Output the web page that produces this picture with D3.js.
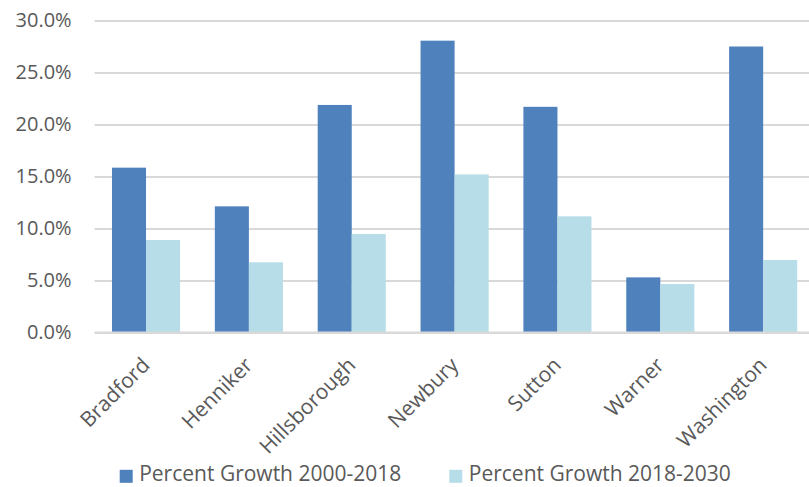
<!DOCTYPE html>
<html>
<head>
<meta charset="utf-8">
<script src="https://cdn.jsdelivr.net/npm/d3@7"></script>
<style>
  html, body { margin: 0; padding: 0; background: #fff; }
  svg { display: block; font-family: "Open Sans", "Noto Sans", sans-serif; }
</style>
</head>
<body>
<svg id="chart" width="809" height="487"></svg>
<script>
// Towns and projected population growth
const towns = ["Bradford", "Henniker", "Hillsborough", "Newbury", "Sutton", "Warner", "Washington"];
const growth2000to2018 = [0.1585, 0.1213, 0.2188, 0.2806, 0.2170, 0.0530, 0.2750];
const growth2018to2030 = [0.0890, 0.0675, 0.0947, 0.1520, 0.1117, 0.0466, 0.0697];
const seriesNames = ["Percent Growth 2000-2018", "Percent Growth 2018-2030"];
const seriesColors = ["#4F81BD", "#B7DDE8"];
const yTicks = [0, 0.05, 0.10, 0.15, 0.20, 0.25, 0.30];

const seriesValues = [growth2000to2018, growth2018to2030];
const rows = towns.map((t, i) => ({ town: t, values: seriesValues.map(s => s[i]) }));

const svg = d3.select("#chart");
const W = 809, H = 487;
const plot = { left: 94.6, right: 814.6, top: 20.5, bottom: 332.5 };

const x = d3.scaleBand().domain(towns).range([plot.left, plot.right]).padding(0);
const step = x.bandwidth();
const groupInset = step * 0.169;
const xs = d3.scaleBand().domain(d3.range(seriesNames.length))
  .range([groupInset, step - groupInset]).padding(0);
const y = d3.scaleLinear().domain([0, 0.30]).range([plot.bottom, plot.top]);
const fmt = d3.format(".1%");

// Horizontal gridlines
const yAxis = d3.axisLeft(y).tickValues(yTicks).tickFormat(fmt)
  .tickSize(-(W - plot.left)).tickPadding(23);
const gy = svg.append("g").attr("transform", `translate(${plot.left},0)`).call(yAxis);
gy.select(".domain").remove();
gy.selectAll(".tick line").attr("stroke", "#D9D9D9").attr("stroke-width", 2);
gy.selectAll(".tick text")
  .attr("fill", "#595959").attr("font-size", "20px")
  .attr("font-family", "'Open Sans', sans-serif");

// Bars
const groups = svg.append("g").selectAll("g").data(rows).join("g")
  .attr("transform", d => `translate(${x(d.town)},0)`);
groups.selectAll("rect").data(d => d.values.map((v, k) => ({ v, k }))).join("rect")
  .attr("x", d => xs(d.k))
  .attr("width", xs.bandwidth())
  .attr("y", d => y(d.v))
  .attr("height", d => y(0) - y(d.v))
  .attr("fill", d => seriesColors[d.k]);

// Baseline on top of bars
svg.append("line")
  .attr("x1", plot.left).attr("x2", W)
  .attr("y1", y(0)).attr("y2", y(0))
  .attr("stroke", "#D9D9D9").attr("stroke-width", 2);

// Rotated category labels
svg.append("g").selectAll("text").data(towns).join("text")
  .attr("transform", d => `translate(${x(d) + step / 2 + 5},${plot.bottom + 34}) rotate(-45)`)
  .attr("text-anchor", "end")
  .attr("font-size", "21px")
  .attr("fill", "#595959")
  .text(d => d);

// Legend
const legendX = [119.7, 449.3];
const legend = svg.append("g").selectAll("g").data(seriesNames).join("g")
  .attr("transform", (d, i) => `translate(${legendX[i]},469.8)`);
legend.append("rect").attr("width", 13).attr("height", 13)
  .attr("fill", (d, i) => seriesColors[i]);
legend.append("text").attr("x", 19.5).attr("y", 11.3)
  .attr("font-size", "21px").attr("fill", "#595959")
  .text(d => d);
</script>
</body>
</html>
